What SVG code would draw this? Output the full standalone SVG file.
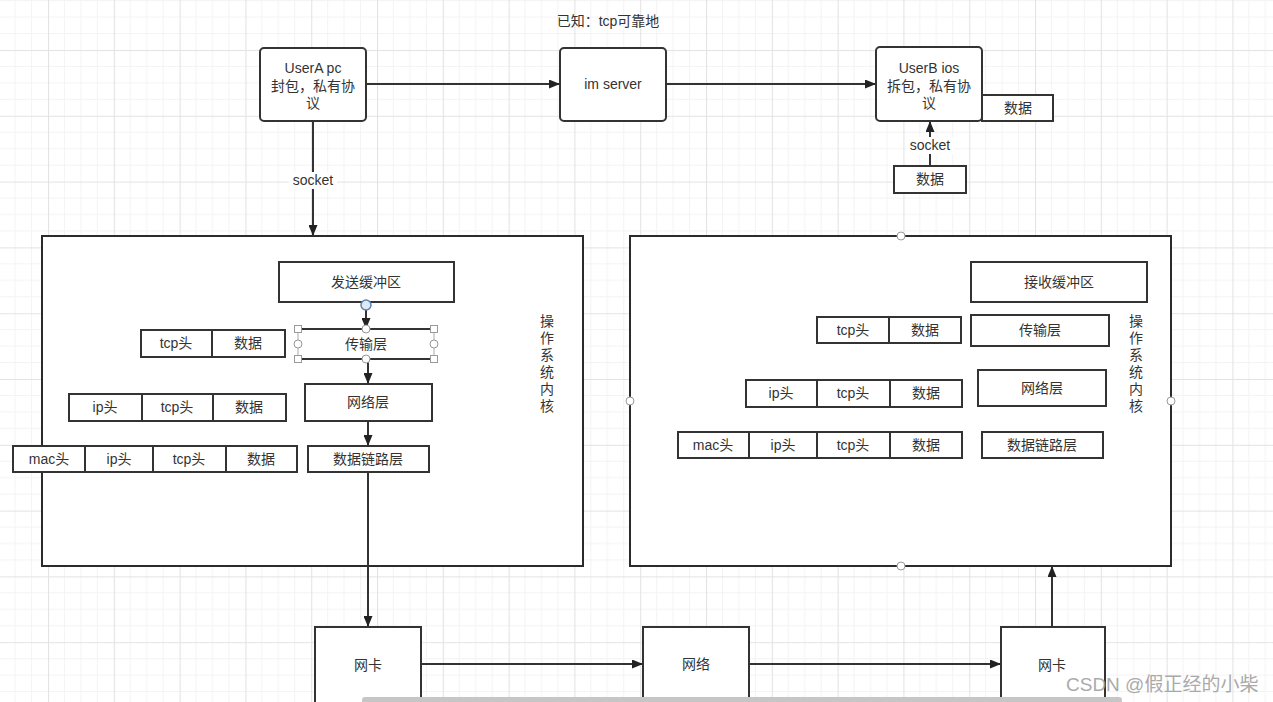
<svg xmlns="http://www.w3.org/2000/svg" width="1273" height="702" viewBox="0 0 1273 702">
<style>
text{font-family:"Liberation Sans","Noto Sans CJK SC",sans-serif;font-size:14px;fill:#333;text-anchor:middle;dominant-baseline:central}
.n{fill:#fff;stroke:#333;stroke-width:2}
.b{fill:#fff;stroke:#2b2b2b;stroke-width:2}
.e{fill:none;stroke:#333;stroke-width:2}
.h{fill:#fff;stroke:#9a9a9a;stroke-width:1}
.wm{fill:#9c9c9c;font-size:19px;text-anchor:start;opacity:0.85}
</style>
<defs>
<pattern id="grid" patternUnits="userSpaceOnUse" x="48" y="50" width="65.8" height="65.8">
<path d="M16.45 0V65.8M32.9 0V65.8M49.35 0V65.8M0 16.45H65.8M0 32.9H65.8M0 49.35H65.8" stroke="#f3f3f3" stroke-width="1" fill="none"/>
<path d="M0.5 0V65.8M0 0.5H65.8" stroke="#e3e3e3" stroke-width="1.2" fill="none"/>
</pattern>
<marker id="arr" viewBox="0 0 10 10" refX="10" refY="5" markerWidth="5.5" markerHeight="4.5" orient="auto" markerUnits="strokeWidth" preserveAspectRatio="none">
<path d="M0 0L10 5L0 10z" fill="#222"/>
</marker>
</defs>
<rect width="1273" height="702" fill="#fff"/>
<rect width="1273" height="702" fill="url(#grid)"/>

<text x="608" y="21">已知：tcp可靠地</text>

<g id="os-left">
<rect class="b" x="42" y="236" width="541" height="330"/>
<text x="547" y="321">操</text><text x="547" y="338">作</text><text x="547" y="355">系</text><text x="547" y="372">统</text><text x="547" y="389">内</text><text x="547" y="406">核</text>
</g>
<g id="os-right">
<rect class="b" x="630" y="236" width="541" height="330"/>
<text x="1136" y="321">操</text><text x="1136" y="338">作</text><text x="1136" y="355">系</text><text x="1136" y="372">统</text><text x="1136" y="389">内</text><text x="1136" y="406">核</text>
<circle class="h" cx="901" cy="236" r="4"/><circle class="h" cx="630" cy="401" r="4"/><circle class="h" cx="1171" cy="401" r="4"/><circle class="h" cx="901" cy="566" r="4"/>
</g>

<g id="connectors">
<path class="e" d="M366 84H560" marker-end="url(#arr)"/>
<path class="e" d="M666 84H876" marker-end="url(#arr)"/>
<path class="e" d="M313 121V236" marker-end="url(#arr)"/>
<path class="e" d="M930 166V121" marker-end="url(#arr)"/>
<path class="e" d="M366 305V329" marker-end="url(#arr)"/>
<path class="e" d="M368 360V384" marker-end="url(#arr)"/>
<path class="e" d="M368 421V446" marker-end="url(#arr)"/>
<path class="e" d="M368 472V627" marker-end="url(#arr)"/>
<path class="e" d="M421 664H643" marker-end="url(#arr)"/>
<path class="e" d="M749 664H1001" marker-end="url(#arr)"/>
<path class="e" d="M1052 627V566" marker-end="url(#arr)"/>
<rect x="289" y="172" width="48" height="17" fill="#fff"/>
<text x="313" y="180">socket</text>
<rect x="906" y="137" width="48" height="17" fill="#fff"/>
<text x="930" y="145">socket</text>
</g>

<g id="userA"><rect class="n" x="260" y="48" width="106" height="73" rx="4"/><text x="313" y="68">UserA pc</text><text x="313" y="86">封包，私有协</text><text x="313" y="103">议</text></g>
<g id="imserver"><rect class="n" x="560" y="48" width="106" height="73" rx="4"/><text x="613" y="84">im server</text></g>
<g id="userB"><rect class="n" x="876" y="47" width="106" height="74" rx="4"/><text x="929" y="68">UserB ios</text><text x="929" y="86">拆包，私有协</text><text x="929" y="103">议</text></g>
<g id="dataB1"><rect class="n" x="982" y="95" width="71" height="26"/><text x="1018" y="108">数据</text></g>
<g id="dataB2"><rect class="n" x="894" y="166" width="72" height="27"/><text x="930" y="179">数据</text></g>

<g id="sendbuf"><rect class="n" x="279" y="262" width="175" height="40"/><text x="366" y="282">发送缓冲区</text></g>
<g id="transport-left">
<rect x="298" y="329" width="136" height="30" fill="#fff" stroke="#aaa" stroke-width="1"/>
<path d="M298 329H434M298 359H434" stroke="#333" stroke-width="2"/>
<text x="366" y="344">传输层</text>
<rect class="h" x="294.5" y="325.5" width="7" height="7"/><rect class="h" x="430.5" y="325.5" width="7" height="7"/><rect class="h" x="294.5" y="355.5" width="7" height="7"/><rect class="h" x="430.5" y="355.5" width="7" height="7"/>
<circle class="h" cx="366" cy="329" r="4"/><circle class="h" cx="366" cy="359" r="4"/><circle class="h" cx="298" cy="344" r="4"/><circle class="h" cx="434" cy="344" r="4"/>
<circle cx="366" cy="305" r="5" fill="#dfe9f5" stroke="#5a82b4" stroke-width="1.5"/>
</g>
<g id="network-left"><rect class="n" x="305" y="384" width="127" height="37"/><text x="368" y="402">网络层</text></g>
<g id="link-left"><rect class="n" x="308" y="446" width="121" height="26"/><text x="368" y="459">数据链路层</text></g>

<g id="pkt-l1"><rect class="n" x="141" y="330" width="71" height="27"/><text x="176" y="343">tcp头</text><rect class="n" x="212" y="330" width="73" height="27"/><text x="248" y="343">数据</text></g>
<g id="pkt-l2"><rect class="n" x="69" y="394" width="73" height="27"/><text x="105" y="407">ip头</text><rect class="n" x="142" y="394" width="71" height="27"/><text x="177" y="407">tcp头</text><rect class="n" x="213" y="394" width="73" height="27"/><text x="249" y="407">数据</text></g>
<g id="pkt-l3"><rect class="n" x="13" y="446" width="72" height="26"/><text x="49" y="459">mac头</text><rect class="n" x="85" y="446" width="68" height="26"/><text x="119" y="459">ip头</text><rect class="n" x="153" y="446" width="73" height="26"/><text x="189" y="459">tcp头</text><rect class="n" x="226" y="446" width="71" height="26"/><text x="261" y="459">数据</text></g>

<g id="recvbuf"><rect class="n" x="971" y="262" width="176" height="40"/><text x="1059" y="282">接收缓冲区</text></g>
<g id="transport-right"><rect class="n" x="971" y="315" width="138" height="31"/><text x="1040" y="330">传输层</text></g>
<g id="network-right"><rect class="n" x="978" y="370" width="128" height="36"/><text x="1042" y="388">网络层</text></g>
<g id="link-right"><rect class="n" x="982" y="432" width="121" height="26"/><text x="1042" y="445">数据链路层</text></g>

<g id="pkt-r1"><rect class="n" x="817" y="317" width="72" height="26"/><text x="853" y="330">tcp头</text><rect class="n" x="889" y="317" width="72" height="26"/><text x="925" y="330">数据</text></g>
<g id="pkt-r2"><rect class="n" x="746" y="380" width="71" height="27"/><text x="781" y="393">ip头</text><rect class="n" x="817" y="380" width="73" height="27"/><text x="853" y="393">tcp头</text><rect class="n" x="890" y="380" width="72" height="27"/><text x="926" y="393">数据</text></g>
<g id="pkt-r3"><rect class="n" x="678" y="432" width="71" height="26"/><text x="713" y="445">mac头</text><rect class="n" x="749" y="432" width="68" height="26"/><text x="783" y="445">ip头</text><rect class="n" x="817" y="432" width="73" height="26"/><text x="853" y="445">tcp头</text><rect class="n" x="890" y="432" width="72" height="26"/><text x="926" y="445">数据</text></g>

<g id="nic-left"><rect class="n" x="315" y="627" width="106" height="100"/><text x="368" y="665">网卡</text></g>
<g id="net"><rect class="n" x="643" y="627" width="106" height="100"/><text x="696" y="664">网络</text></g>
<g id="nic-right"><rect class="n" x="1001" y="627" width="104" height="100"/><text x="1052" y="665">网卡</text></g>

<rect x="362" y="697" width="760" height="8" rx="3" fill="#c6c6c6"/>
<text class="wm" x="1066" y="684">CSDN @假正经的小柴</text>
</svg>
